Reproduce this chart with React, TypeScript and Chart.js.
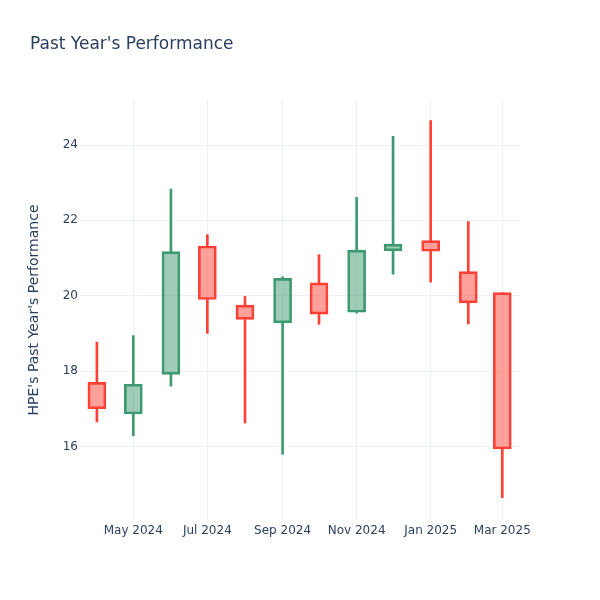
import React, { useEffect, useRef } from "react";
import { Chart, registerables } from "chart.js";

Chart.register(...registerables);

// Monthly candles (first day of month)
const dates = [
  "2024-04-01", "2024-05-01", "2024-06-01", "2024-07-01", "2024-08-01", "2024-09-01",
  "2024-10-01", "2024-11-01", "2024-12-01", "2025-01-01", "2025-02-01", "2025-03-01",
];
const openVals = [17.70, 16.86, 17.91, 21.32, 19.75, 19.28, 20.34, 19.56, 21.19, 21.46, 20.64, 20.08];
const highVals = [18.77, 18.94, 22.83, 21.62, 19.98, 20.50, 21.09, 22.61, 24.23, 24.65, 21.97, 20.08];
const lowVals = [16.65, 16.28, 17.60, 19.00, 16.62, 15.79, 19.24, 19.54, 20.57, 20.36, 19.25, 14.64];
const closeVals = [17.00, 17.65, 21.17, 19.90, 19.37, 20.46, 19.51, 21.21, 21.37, 21.18, 19.81, 15.93];

const xTickDates = ["2024-05-01", "2024-07-01", "2024-09-01", "2024-11-01", "2025-01-01", "2025-03-01"];
const xTickLabels = ["May 2024", "Jul 2024", "Sep 2024", "Nov 2024", "Jan 2025", "Mar 2025"];
const yTickValues = [16, 18, 20, 22, 24];

const TITLE = "Past Year's Performance";
const Y_TITLE = "HPE's Past Year's Performance";

const INC_LINE = "#3D9970";
const INC_FILL = "rgba(61,153,112,0.5)";
const DEC_LINE = "#FF4136";
const DEC_FILL = "rgba(255,65,54,0.5)";
const TEXT = "#2a3f5f";
const GRID = "#EBF0F8";
const FONT = "'DejaVu Sans', Verdana, sans-serif";

const EPOCH = Date.parse("2024-04-01T00:00:00Z");
const toDay = (s: string) => (Date.parse(s + "T00:00:00Z") - EPOCH) / 86400000;

export default function App() {
  const ref = useRef<HTMLCanvasElement | null>(null);

  useEffect(() => {
    if (!ref.current) return;
    const xs = dates.map(toDay);
    const up = openVals.map((o, i) => closeVals[i] >= o);
    const lineColors = up.map((u) => (u ? INC_LINE : DEC_LINE));
    const fillColors = up.map((u) => (u ? INC_FILL : DEC_FILL));

    const bodies = xs.map((x, i) => ({ x, y: [openVals[i], closeVals[i]] }));
    const lowerWicks = xs.map((x, i) => ({ x, y: [lowVals[i], Math.min(openVals[i], closeVals[i])] }));
    const upperWicks = xs.map((x, i) => ({ x, y: [Math.max(openVals[i], closeVals[i]), highVals[i]] }));

    const tickDays = xTickDates.map(toDay);

    const titlePlugin = {
      id: "plotTitle",
      afterDraw(chart: any) {
        const ctx = chart.ctx;
        ctx.save();
        ctx.font = `17px ${FONT}`;
        ctx.fillStyle = TEXT;
        ctx.textAlign = "left";
        ctx.textBaseline = "alphabetic";
        ctx.fillText(TITLE, 30, 49);
        ctx.restore();
      },
    };

    const chart = new Chart(ref.current, {
      type: "bar",
      data: {
        datasets: [
          {
            data: bodies as any,
            backgroundColor: fillColors,
            borderColor: lineColors,
            borderWidth: 2,
            borderSkipped: false,
            barThickness: 18,
            grouped: false,
          } as any,
          {
            data: lowerWicks as any,
            backgroundColor: lineColors,
            borderWidth: 0,
            barThickness: 2,
            grouped: false,
          } as any,
          {
            data: upperWicks as any,
            backgroundColor: lineColors,
            borderWidth: 0,
            barThickness: 2,
            grouped: false,
          } as any,
        ],
      },
      options: {
        animation: false,
        responsive: false,
        maintainAspectRatio: false,
        layout: { padding: { left: 26, right: 80, top: 100, bottom: 0 } },
        plugins: {
          legend: { display: false },
          tooltip: { enabled: false },
          title: { display: false },
        },
        scales: {
          x: {
            type: "linear",
            min: -13.92,
            max: 348.6,
            offset: false,
            border: { display: false },
            grid: { color: GRID, lineWidth: 1, drawTicks: false, offset: false },
            afterBuildTicks: (scale: any) => {
              scale.ticks = tickDays.map((v) => ({ value: v }));
            },
            afterFit: (scale: any) => {
              scale.height = 80;
            },
            ticks: {
              padding: 4,
              maxRotation: 0,
              autoSkip: false,
              color: TEXT,
              font: { family: FONT, size: 12 },
              callback: (v: any) => {
                const idx = tickDays.indexOf(Number(v));
                return idx >= 0 ? xTickLabels[idx] : "";
              },
            },
          },
          y: {
            type: "linear",
            min: 14.046,
            max: 25.195,
            border: { display: false },
            grid: { color: GRID, lineWidth: 1, drawTicks: false },
            afterBuildTicks: (scale: any) => {
              scale.ticks = yTickValues.map((v) => ({ value: v }));
            },
            afterFit: (scale: any) => {
              scale.width = 54;
            },
            ticks: {
              padding: 2,
              color: TEXT,
              font: { family: FONT, size: 12 },
              callback: (v: any) => String(v),
            },
            title: {
              display: true,
              text: Y_TITLE,
              color: TEXT,
              padding: { top: 0, bottom: 0 },
              font: { family: FONT, size: 14 },
            },
          },
        },
      } as any,
      plugins: [titlePlugin],
    });
    return () => chart.destroy();
  }, []);

  return (
    <div style={{ position: "fixed", left: 0, top: 0, width: 600, height: 600, background: "#fff" }}>
      <canvas ref={ref} width={600} height={600} style={{ width: 600, height: 600, display: "block" }} />
    </div>
  );
}
